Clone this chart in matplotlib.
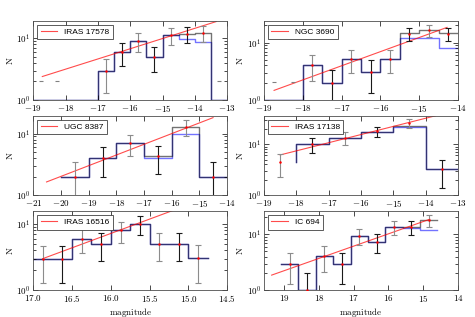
import numpy as np
import matplotlib
matplotlib.use("Agg")
import matplotlib.pyplot as plt
from matplotlib.ticker import MultipleLocator, FuncFormatter, NullFormatter, LogLocator

plt.rcParams['mathtext.fontset'] = 'cm'
plt.rcParams['font.family'] = 'serif'
plt.rcParams['font.serif'] = ['DejaVu Serif']
plt.rcParams['font.size'] = 6.5

# IRAS 17578
edges1 = [-19, -18.5, -18, -17.5, -17, -16.5, -16, -15.5, -15, -14.5, -14, -13.5, -13]
black1 = [1, 1, 1, 1, 3, 6, 9, 5, 11.3, 11.8, 12.2, 1]
blue1 = [1, 1, 1, 1, 3, 6, 9, 5, 11.3, 9.8, 8.7, 1]
xpt1 = [-16.75, -16.25, -15.75, -15.25, -14.75, -14.25, -13.75]
npt1 = [3, 6, 9, 5, 11.3, 11.8, 12.2]
err1 = [1.7, 2.4, 3.0, 2.2, 3.4, 3.4, 3.5]
xup1 = [-18.75, -18.25, -13.25]
up1 = [2.0, 2.0, 2.0]
fitx1 = [-18.72, -13.34]
fity1 = [2.4, 18.7]

# NGC 3690
edges2 = [-19, -18.5, -18, -17.5, -17, -16.5, -16, -15.5, -15, -14.5, -14]
black2 = [1, 1, 4.1, 2, 5.2, 3.1, 5.2, 14.5, 16.8, 14.5]
blue2 = [1, 1, 4.1, 2, 5.2, 3.1, 5.2, 12.2, 12.2, 8.1]
xpt2 = [-17.75, -17.25, -16.75, -16.25, -15.75, -15.25, -14.75, -14.25]
npt2 = [4.1, 2.0, 5.2, 3.1, 5.2, 14.3, 16.6, 14.3]
err2 = [2.0, 1.4, 2.3, 1.8, 2.3, 3.8, 4.1, 3.8]
xup2 = [-18.75, -18.25]
up2 = [2.05, 2.05]
fitx2 = [-18.74, -14.28]
fity2 = [1.47, 18.5]

# UGC 8387
edges3 = [-20, -19, -18, -17, -16, -15, -14]
black3 = [2, 4, 7, 4.4, 12.8, 2]
blue3 = [2, 4, 7, 4, 10, 2]
xpt3 = [-19.5, -18.5, -17.5, -16.5, -15.5, -14.5]
npt3 = [2, 4, 7, 4.3, 12.8, 2]
err3 = [1.4, 2.0, 2.6, 2.1, 3.6, 1.4]
xup3 = []
up3 = []
fitx3 = [-20.52, -14.51]
fity3 = [1.64, 18.2]

# IRAS 17138 (first edge repeated: the histogram starts with a vertical step)
edges4 = [-18, -18, -17, -16, -15, -14, -13]
black4 = [4.4, 10, 13.5, 17, 22.5, 3.2]
blue4 = [4.4, 10, 13.5, 17, 22, 3.2]
xpt4 = [-18.5, -17.5, -16.5, -15.5, -14.5, -13.5]
npt4 = [4.4, 10, 13.5, 17.8, 26, 3.2]
err4 = [2.1, 3.2, 3.7, 4.2, 5.1, 1.8]
xup4 = []
up4 = []
fitx4 = [-18.5, -13.7]
fity4 = [6.15, 36]

# IRAS 16516
edges5 = [17.0, 16.75, 16.5, 16.25, 16.0, 15.75, 15.5, 15.25, 15.0, 14.75]
black5 = [3, 3, 6, 5, 8, 10, 5, 5, 3.05]
blue5 = [3, 3, 6, 5, 8, 10, 5, 5, 3.05]
xpt5 = [16.875, 16.625, 16.375, 16.125, 15.875, 15.625, 15.375, 15.125, 14.875]
npt5 = [3, 3, 6, 5, 8, 10, 5, 5, 3.1]
err5 = [1.7, 1.7, 2.4, 2.2, 2.8, 3.2, 2.2, 2.2, 1.8]
xup5 = []
up5 = []
fitx5 = [16.88, 15.2]
fity5 = [3.0, 16.0]

# IC 694
edges6 = [19.09, 18.59, 18.09, 17.59, 17.09, 16.59, 16.09, 15.59, 15.09, 14.59]
black6 = [3, 1, 4.1, 3, 9.3, 7.3, 13.5, 13.5, 17.7]
blue6 = [3, 1, 4.1, 3, 9.3, 7.3, 13.5, 12.8, 11.9]
xpt6 = [18.84, 18.34, 17.84, 17.34, 16.84, 16.34, 15.84, 15.34, 14.84]
npt6 = [3, 1, 4.1, 3, 9.3, 7.3, 13.5, 13.5, 17.7]
err6 = [1.7, 1.0, 2.0, 1.7, 3.0, 2.7, 3.7, 3.7, 4.2]
xup6 = []
up6 = []
fitx6 = [19.36, 14.81]
fity6 = [1.87, 18.5]

names = ['IRAS 17578', 'NGC 3690', 'UGC 8387', 'IRAS 17138', 'IRAS 16516', 'IC 694']
xlims = [(-19, -13), (-19, -14), (-21, -14), (-19, -13), (17.0, 14.5), (19.58, 14.0)]
ytops = [19.4, 24.3, 19.5, 36, 15.7, 25.9]
xsteps = [1, 1, 1, 1, 0.5, 1]
xfmts = ['$%d$', '$%d$', '$%d$', '$%d$', '$%.1f$', '$%d$']

panels = [
    (edges1, black1, blue1, xpt1, npt1, err1, xup1, up1, fitx1, fity1),
    (edges2, black2, blue2, xpt2, npt2, err2, xup2, up2, fitx2, fity2),
    (edges3, black3, blue3, xpt3, npt3, err3, xup3, up3, fitx3, fity3),
    (edges4, black4, blue4, xpt4, npt4, err4, xup4, up4, fitx4, fity4),
    (edges5, black5, blue5, xpt5, npt5, err5, xup5, up5, fitx5, fity5),
    (edges6, black6, blue6, xpt6, npt6, err6, xup6, up6, fitx6, fity6),
]


def ylab(v, pos):
    e = int(round(np.log10(v)))
    if abs(v - 10.0 ** e) > 1e-6 * v:
        return ''
    return r'$10^{%d}$' % e


fig, axes = plt.subplots(3, 2, figsize=(4.75, 3.17), dpi=100)
fig.subplots_adjust(left=0.070, right=0.964, top=0.935, bottom=0.084, wspace=0.19, hspace=0.2)

for i, ax in enumerate(axes.flat):
    edges, blk, blu, xp, npt, err, xu, up, fx, fy = panels[i]
    ax.set_yscale('log')
    ax.plot(edges, list(blu) + [blu[-1]], drawstyle='steps-post', color='b', alpha=0.55, lw=1, zorder=1)
    ax.plot(edges, list(blk) + [blk[-1]], drawstyle='steps-post', color='k', alpha=0.55, lw=1, zorder=1)
    ax.plot(fx, fy, color='r', alpha=0.7, lw=0.8, zorder=2, label=names[i])
    for j in range(len(xp)):
        c = '0.55' if j % 2 == 0 else '0.1'
        ax.errorbar(xp[j], npt[j], yerr=err[j], fmt='none', ecolor=c, elinewidth=0.8,
                    capsize=2, capthick=0.8, zorder=3)
    ax.plot(xp, npt, 'o', color='r', ms=1.8, mec='none', zorder=4)
    if len(xu) > 0:
        ax.plot(xu, up, '_', color='0.5', ms=3, mew=0.8, zorder=3)

    ax.set_xlim(xlims[i])
    ax.set_ylim(1, ytops[i])
    ax.xaxis.set_major_locator(MultipleLocator(xsteps[i]))
    ax.xaxis.set_major_formatter(FuncFormatter(lambda v, p, f=xfmts[i]: f % v))
    ax.yaxis.set_major_locator(LogLocator(base=10))
    ax.yaxis.set_major_formatter(FuncFormatter(ylab))
    ax.yaxis.set_minor_formatter(NullFormatter())
    ax.tick_params(which='both', direction='in', top=True, right=True, labelsize=6.5, pad=2)
    ax.tick_params(which='major', length=3.5, width=0.5)
    ax.tick_params(which='minor', length=2, width=0.5)
    for s in ax.spines.values():
        s.set_linewidth(0.6)
        s.set_color('0.3')
    ax.set_ylabel(r'$\mathrm{N}$', fontsize=6.5, labelpad=1)
    leg = ax.legend(loc='upper left', fancybox=False, framealpha=1,
                    borderaxespad=0.5, prop={'family': 'Liberation Sans', 'size': 6})
    leg.get_frame().set_edgecolor('0.25')
    leg.get_frame().set_linewidth(0.6)

axes[2, 0].set_xlabel(r'$\mathrm{magnitude}$', fontsize=6.5, labelpad=1)
axes[2, 1].set_xlabel(r'$\mathrm{magnitude}$', fontsize=6.5, labelpad=1)

fig.savefig('out.png', dpi=100)
